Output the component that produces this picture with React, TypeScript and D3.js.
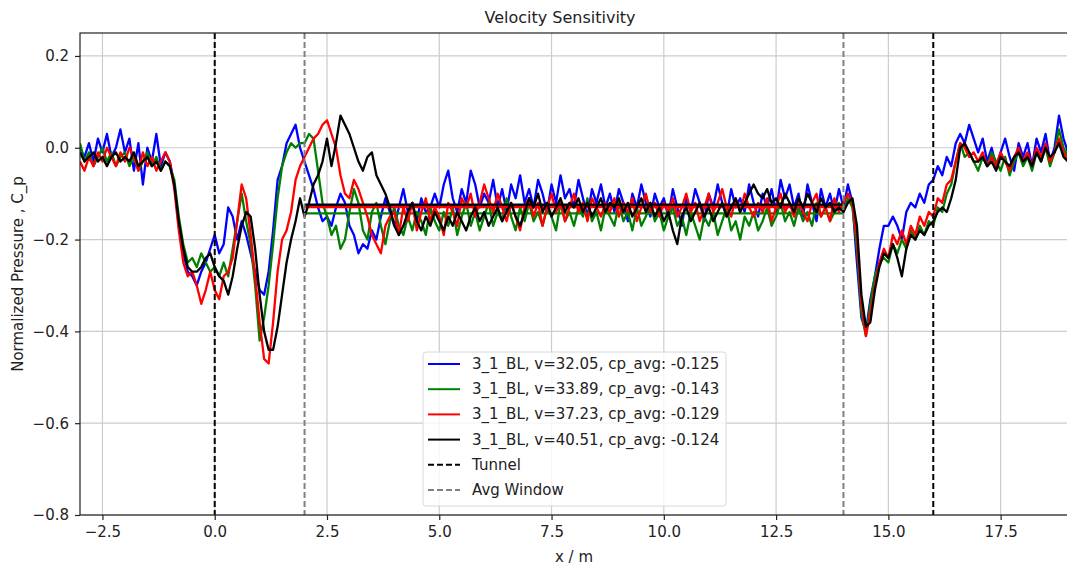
import React, { useEffect, useRef } from 'react';
import * as d3 from 'd3';

// sampled every 0.1 m starting at x = -3
const xStart = -3;
const xStep = 0.1;

const blueCp = [
  0.00, -0.02, 0.01, -0.03, 0.02, -0.01, 0.03, -0.02, 0.00, 0.04,
  -0.01, 0.02, -0.05, 0.01, -0.08, 0.00, -0.03, 0.03, -0.04, -0.01,
  -0.03, -0.08, -0.17, -0.23, -0.27, -0.28, -0.30, -0.27, -0.25, -0.22,
  -0.19, -0.23, -0.21, -0.13, -0.15, -0.20, -0.16, -0.19, -0.23, -0.27,
  -0.31, -0.32, -0.27, -0.18, -0.07, -0.04, 0.01, 0.03, 0.05, 0.00,
  -0.03, -0.06, -0.09, -0.13, -0.16, -0.15, -0.17, -0.13, -0.10, -0.12,
  -0.17, -0.19, -0.23, -0.21, -0.22, -0.18, -0.20, -0.15, -0.11, -0.14,
  -0.17, -0.13, -0.09, -0.14, -0.12, -0.16, -0.11, -0.14, -0.13, -0.10,
  -0.13, -0.08, -0.05, -0.11, -0.14, -0.09, -0.12, -0.05, -0.08, -0.13,
  -0.10, -0.12, -0.07, -0.13, -0.09, -0.14, -0.08, -0.11, -0.06, -0.12,
  -0.09, -0.13, -0.07, -0.10, -0.14, -0.08, -0.12, -0.06, -0.11, -0.09,
  -0.13, -0.07, -0.11, -0.15, -0.09, -0.12, -0.08, -0.13, -0.10, -0.14,
  -0.09, -0.12, -0.16, -0.10, -0.13, -0.08, -0.12, -0.15, -0.10, -0.13,
  -0.11, -0.15, -0.09, -0.13, -0.17, -0.11, -0.14, -0.09, -0.12, -0.16,
  -0.10, -0.13, -0.08, -0.12, -0.15, -0.09, -0.13, -0.11, -0.14, -0.08,
  -0.12, -0.15, -0.10, -0.13, -0.09, -0.14, -0.07, -0.11, -0.08, -0.13,
  -0.10, -0.15, -0.08, -0.12, -0.16, -0.09, -0.13, -0.10, -0.14, -0.09,
  -0.13, -0.08, -0.12, -0.25, -0.37, -0.40, -0.33, -0.28, -0.22, -0.17,
  -0.17, -0.15, -0.17, -0.20, -0.14, -0.12, -0.13, -0.10, -0.12, -0.08,
  -0.07, -0.04, -0.06, -0.02, -0.04, 0.01, 0.03, 0.01, 0.05, 0.02,
  -0.01, 0.02, -0.03, 0.00, -0.04, -0.01, 0.02, -0.02, -0.05, 0.01,
  -0.02, 0.01, -0.04, 0.02, -0.01, 0.03, -0.03, 0.00, 0.07, 0.02,
  -0.01,
];

const greenCp = [
  0.01, -0.03, -0.01, -0.04, -0.02, 0.00, -0.03, -0.01, -0.04, -0.02,
  -0.01, -0.04, -0.02, -0.05, -0.03, -0.01, -0.04, -0.02, -0.05, -0.03,
  -0.04, -0.07, -0.15, -0.21, -0.25, -0.24, -0.26, -0.23, -0.25, -0.27,
  -0.26, -0.28, -0.25, -0.28, -0.22, -0.16, -0.10, -0.16, -0.21, -0.30,
  -0.42, -0.37, -0.30, -0.21, -0.11, -0.04, -0.01, 0.01, 0.00, 0.01,
  0.01, 0.03, 0.02, -0.05, -0.12, -0.15, -0.19, -0.17, -0.22, -0.20,
  -0.14, -0.09, -0.12, -0.18, -0.20, -0.14, -0.12, -0.17, -0.21, -0.16,
  -0.13, -0.17, -0.19, -0.15, -0.18, -0.14, -0.16, -0.19, -0.13, -0.16,
  -0.18, -0.14, -0.17, -0.13, -0.19, -0.15, -0.12, -0.17, -0.14, -0.18,
  -0.15, -0.12, -0.17, -0.14, -0.16, -0.11, -0.15, -0.18, -0.13, -0.16,
  -0.12, -0.16, -0.14, -0.17, -0.13, -0.15, -0.18, -0.12, -0.16, -0.14,
  -0.17, -0.13, -0.15, -0.11, -0.16, -0.14, -0.18, -0.13, -0.15, -0.17,
  -0.12, -0.16, -0.14, -0.18, -0.13, -0.17, -0.15, -0.12, -0.16, -0.14,
  -0.18, -0.15, -0.13, -0.17, -0.15, -0.19, -0.14, -0.17, -0.20, -0.15,
  -0.17, -0.14, -0.19, -0.16, -0.13, -0.18, -0.16, -0.20, -0.15, -0.17,
  -0.14, -0.18, -0.16, -0.13, -0.17, -0.15, -0.12, -0.16, -0.14, -0.17,
  -0.13, -0.16, -0.14, -0.17, -0.12, -0.15, -0.13, -0.16, -0.14, -0.12,
  -0.14, -0.11, -0.13, -0.22, -0.36, -0.41, -0.34, -0.28, -0.25, -0.24,
  -0.25, -0.21, -0.23, -0.20, -0.22, -0.18, -0.20, -0.17, -0.19, -0.16,
  -0.17, -0.13, -0.14, -0.10, -0.08, -0.03, 0.01, -0.02, -0.01, -0.03,
  -0.05, -0.02, -0.04, -0.01, -0.03, -0.05, -0.02, -0.06, -0.03, -0.01,
  -0.04, -0.02, -0.05, -0.01, -0.03, 0.00, -0.04, -0.01, 0.04, 0.00,
  -0.02,
];

const redCp = [
  -0.03, -0.05, -0.02, -0.04, -0.01, -0.03, 0.00, -0.02, -0.04, -0.01,
  -0.03, 0.00, -0.02, -0.05, -0.01, -0.04, -0.02, -0.05, -0.03, -0.01,
  -0.03, -0.09, -0.18, -0.25, -0.28, -0.27, -0.30, -0.34, -0.31, -0.27,
  -0.31, -0.33, -0.28, -0.27, -0.24, -0.16, -0.08, -0.11, -0.19, -0.28,
  -0.38, -0.46, -0.47, -0.38, -0.27, -0.20, -0.18, -0.14, -0.07, -0.04,
  -0.02, 0.00, 0.02, 0.03, 0.05, 0.06, 0.03, 0.00, -0.06, -0.10,
  -0.11, -0.07, -0.09, -0.12, -0.15, -0.19, -0.21, -0.23, -0.17, -0.15,
  -0.14, -0.19, -0.13, -0.16, -0.12, -0.18, -0.14, -0.11, -0.16, -0.13,
  -0.15, -0.19, -0.12, -0.14, -0.17, -0.11, -0.13, -0.10, -0.15, -0.12,
  -0.08, -0.11, -0.14, -0.10, -0.13, -0.16, -0.12, -0.15, -0.18, -0.13,
  -0.11, -0.15, -0.12, -0.17, -0.13, -0.10, -0.14, -0.12, -0.16, -0.13,
  -0.10, -0.14, -0.12, -0.16, -0.11, -0.13, -0.15, -0.12, -0.14, -0.11,
  -0.15, -0.12, -0.14, -0.11, -0.16, -0.13, -0.10, -0.14, -0.12, -0.15,
  -0.12, -0.14, -0.11, -0.15, -0.13, -0.10, -0.14, -0.12, -0.16, -0.13,
  -0.10, -0.14, -0.12, -0.09, -0.13, -0.15, -0.11, -0.14, -0.10, -0.13,
  -0.15, -0.12, -0.14, -0.11, -0.16, -0.13, -0.10, -0.14, -0.12, -0.15,
  -0.11, -0.14, -0.16, -0.12, -0.10, -0.15, -0.13, -0.16, -0.11, -0.14,
  -0.12, -0.10, -0.12, -0.20, -0.34, -0.41, -0.36, -0.30, -0.25, -0.22,
  -0.24, -0.19, -0.21, -0.18, -0.21, -0.17, -0.19, -0.15, -0.17, -0.14,
  -0.15, -0.11, -0.12, -0.08, -0.07, -0.03, 0.01, 0.00, -0.02, -0.01,
  -0.03, -0.01, -0.04, -0.02, -0.04, -0.01, -0.03, -0.05, -0.02, 0.00,
  -0.03, -0.01, -0.04, 0.00, -0.02, 0.01, -0.03, -0.01, 0.02, -0.01,
  -0.03,
];

const blackCp = [
  -0.01, -0.03, -0.02, -0.01, -0.03, -0.02, -0.04, -0.02, -0.01, -0.03,
  -0.02, -0.03, -0.01, -0.04, -0.03, -0.02, -0.04, -0.03, -0.05, -0.03,
  -0.04, -0.08, -0.16, -0.22, -0.26, -0.27, -0.27, -0.26, -0.24, -0.23,
  -0.26, -0.28, -0.29, -0.32, -0.28, -0.22, -0.17, -0.14, -0.15, -0.22,
  -0.32, -0.40, -0.44, -0.44, -0.39, -0.32, -0.25, -0.20, -0.16, -0.11,
  -0.15, -0.12, -0.08, -0.06, -0.03, 0.02, -0.04, 0.01, 0.07, 0.05,
  0.03, 0.00, -0.03, -0.05, -0.02, -0.01, -0.06, -0.08, -0.10, -0.13,
  -0.17, -0.19, -0.17, -0.14, -0.12, -0.16, -0.18, -0.15, -0.17, -0.14,
  -0.16, -0.18, -0.15, -0.17, -0.14, -0.16, -0.18, -0.15, -0.13, -0.16,
  -0.14, -0.17, -0.15, -0.13, -0.16, -0.14, -0.12, -0.15, -0.17, -0.14,
  -0.11, -0.13, -0.10, -0.14, -0.12, -0.15, -0.13, -0.11, -0.14, -0.12,
  -0.13, -0.11, -0.14, -0.12, -0.15, -0.13, -0.11, -0.14, -0.12, -0.13,
  -0.11, -0.14, -0.12, -0.15, -0.13, -0.11, -0.14, -0.12, -0.15, -0.13,
  -0.16, -0.14, -0.18, -0.21, -0.15, -0.13, -0.16, -0.14, -0.12, -0.15,
  -0.13, -0.16, -0.14, -0.12, -0.15, -0.13, -0.11, -0.14, -0.12, -0.10,
  -0.08, -0.10, -0.11, -0.09, -0.12, -0.11, -0.13, -0.10, -0.12, -0.14,
  -0.11, -0.13, -0.10, -0.12, -0.14, -0.11, -0.13, -0.12, -0.14, -0.13,
  -0.14, -0.12, -0.11, -0.17, -0.32, -0.39, -0.38, -0.31, -0.26, -0.23,
  -0.24, -0.21, -0.24, -0.28, -0.22, -0.19, -0.20, -0.18, -0.19, -0.17,
  -0.16, -0.14, -0.13, -0.14, -0.11, -0.07, 0.00, 0.01, -0.01, -0.03,
  -0.03, -0.02, -0.04, -0.03, -0.05, -0.02, -0.03, -0.04, -0.02, -0.01,
  -0.03, -0.02, -0.04, -0.01, -0.03, 0.00, -0.02, -0.01, 0.01, -0.02,
  -0.03,
];

const seriesColors = ['#0000ff', '#008000', '#ff0000', '#000000'];
const seriesLabels = [
  '3_1_BL, v=32.05, cp_avg: -0.125',
  '3_1_BL, v=33.89, cp_avg: -0.143',
  '3_1_BL, v=37.23, cp_avg: -0.129',
  '3_1_BL, v=40.51, cp_avg: -0.124',
];
const seriesAvg = [-0.125, -0.143, -0.129, -0.124];
const seriesValues = [blueCp, greenCp, redCp, blackCp];

const tunnelX = [0, 16];
const avgWindowX = [2, 14];
const xTicks = [-2.5, 0, 2.5, 5, 7.5, 10, 12.5, 15, 17.5];
const yTicks = [0.2, 0, -0.2, -0.4, -0.6, -0.8];

const FONT = '"DejaVu Sans", sans-serif';

function App() {
  const ref = useRef<SVGSVGElement>(null);

  useEffect(() => {
    document.body.style.margin = '0';
    const svg = d3.select(ref.current);
    svg.selectAll('*').remove();

    const left = 80, right = 1068, top = 33, bottom = 515;
    const x = d3.scaleLinear().domain([-3, 19]).range([left, right]);
    const y = d3.scaleLinear().domain([-0.8, 0.25]).range([bottom, top]);
    const fmt = (d: number) => d3.format('.1f')(d).replace('-', '\u2212');

    svg.append('defs').append('clipPath').attr('id', 'plotclip')
      .append('rect')
      .attr('x', left).attr('y', top)
      .attr('width', right - left).attr('height', bottom - top);

    // grid
    const grid = svg.append('g');
    grid.selectAll('.vg').data(xTicks).join('line')
      .attr('x1', d => x(d)).attr('x2', d => x(d))
      .attr('y1', top).attr('y2', bottom)
      .attr('stroke', '#cccccc').attr('stroke-width', 1.2);
    grid.selectAll('.hg').data(yTicks).join('line')
      .attr('x1', left).attr('x2', right)
      .attr('y1', d => y(d)).attr('y2', d => y(d))
      .attr('stroke', '#cccccc').attr('stroke-width', 1.2);

    const plot = svg.append('g').attr('clip-path', 'url(#plotclip)');
    const line = d3.line<number>()
      .x((_, i) => x(xStart + i * xStep))
      .y(d => y(d));

    seriesValues.forEach((vals, k) => {
      plot.append('path')
        .datum(vals)
        .attr('d', line)
        .attr('fill', 'none')
        .attr('stroke', seriesColors[k])
        .attr('stroke-width', 2.3)
        .attr('stroke-linejoin', 'round');
      plot.append('line')
        .attr('x1', x(avgWindowX[0])).attr('x2', x(avgWindowX[1]))
        .attr('y1', y(seriesAvg[k])).attr('y2', y(seriesAvg[k]))
        .attr('stroke', seriesColors[k]).attr('stroke-width', 2.3);
    });

    plot.selectAll('.tun').data(tunnelX).join('line')
      .attr('x1', d => x(d)).attr('x2', d => x(d))
      .attr('y1', top).attr('y2', bottom)
      .attr('stroke', '#000000').attr('stroke-width', 2)
      .attr('stroke-dasharray', '6,3');
    plot.selectAll('.win').data(avgWindowX).join('line')
      .attr('x1', d => x(d)).attr('x2', d => x(d))
      .attr('y1', top).attr('y2', bottom)
      .attr('stroke', '#808080').attr('stroke-width', 2)
      .attr('stroke-dasharray', '6,3');

    // axes
    const xAxis = svg.append('g')
      .attr('transform', `translate(0, ${bottom})`)
      .call(d3.axisBottom(x).tickValues(xTicks).tickFormat(d => fmt(+d)).tickSize(5).tickPadding(6));
    const yAxis = svg.append('g')
      .attr('transform', `translate(${left}, 0)`)
      .call(d3.axisLeft(y).tickValues(yTicks).tickFormat(d => fmt(+d)).tickSize(5).tickPadding(6));
    [xAxis, yAxis].forEach(a => {
      a.select('.domain').remove();
      a.selectAll('text').attr('font-family', FONT).attr('font-size', 15).attr('fill', '#222');
      a.selectAll('line').attr('stroke', '#222').attr('stroke-width', 1.2);
    });

    svg.append('rect')
      .attr('x', left).attr('y', top)
      .attr('width', right - left).attr('height', bottom - top)
      .attr('fill', 'none').attr('stroke', '#222').attr('stroke-width', 1.2);

    // labels
    svg.append('text')
      .attr('x', 560).attr('y', 23)
      .attr('text-anchor', 'middle')
      .attr('font-family', FONT).attr('font-size', 16).attr('fill', '#222')
      .text('Velocity Sensitivity');
    svg.append('text')
      .attr('x', 574).attr('y', 562)
      .attr('text-anchor', 'middle')
      .attr('font-family', FONT).attr('font-size', 15).attr('fill', '#222')
      .text('x / m');
    svg.append('text')
      .attr('transform', `translate(23, ${(top + bottom) / 2}) rotate(-90)`)
      .attr('text-anchor', 'middle')
      .attr('font-family', FONT).attr('font-size', 15).attr('fill', '#222')
      .text('Normalized Pressure , C_p');

    // legend
    const lg = svg.append('g').attr('transform', 'translate(423, 352)');
    lg.append('rect')
      .attr('width', 303).attr('height', 154)
      .attr('rx', 3)
      .attr('fill', 'white').attr('fill-opacity', 0.8)
      .attr('stroke', '#d8d8d8').attr('stroke-width', 1);
    const legendItems = [
      ...seriesLabels.map((l, k) => ({ label: l, color: seriesColors[k], dash: null as string | null })),
      { label: 'Tunnel', color: '#000000', dash: '6,3' },
      { label: 'Avg Window', color: '#808080', dash: '6,3' },
    ];
    legendItems.forEach((it, i) => {
      const cy = 12 + i * 25.2;
      lg.append('line')
        .attr('x1', 5).attr('x2', 37).attr('y1', cy).attr('y2', cy)
        .attr('stroke', it.color).attr('stroke-width', 2)
        .attr('stroke-dasharray', it.dash);
      lg.append('text')
        .attr('x', 49).attr('y', cy + 5)
        .attr('font-family', FONT).attr('font-size', 15).attr('fill', '#222')
        .text(it.label);
    });
  }, []);

  return <svg ref={ref} width={1067} height={572} style={{ display: 'block', background: 'white' }} />;
}

export default App;
